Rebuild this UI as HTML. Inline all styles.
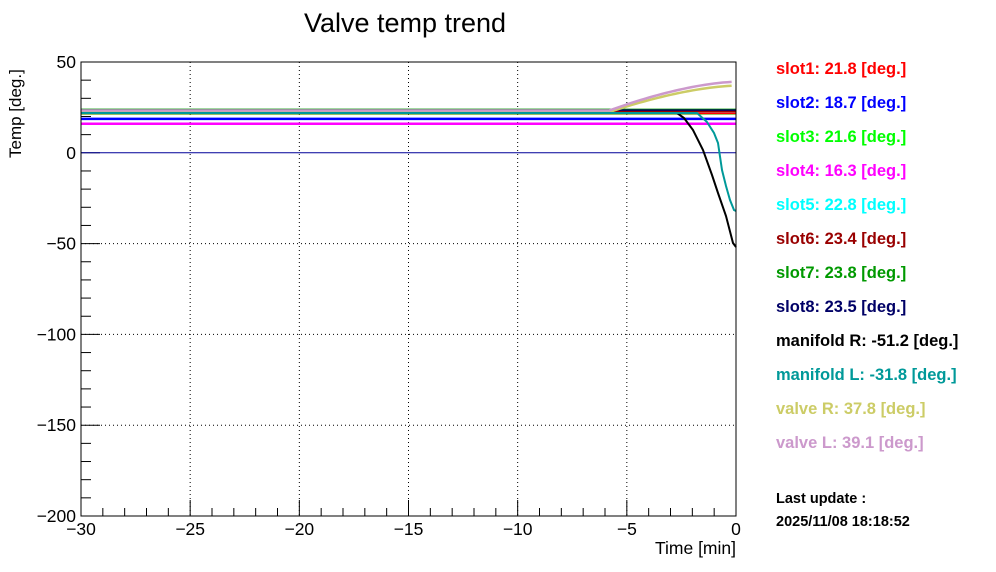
<!DOCTYPE html>
<html><head><meta charset="utf-8"><style>
html,body{margin:0;padding:0;background:#fff;}
svg{display:block;font-family:"Liberation Sans",sans-serif;}
.lg{font-weight:bold;font-size:16.5px;}
</style></head><body>
<svg id="s" width="996" height="572" viewBox="0 0 996 572" xmlns="http://www.w3.org/2000/svg">
<rect width="996" height="572" fill="#fff"/>
<text x="405" y="32" font-size="27" text-anchor="middle">Valve temp trend</text>
<g id="grid" stroke="#000" stroke-width="1" stroke-dasharray="1,3"></g>
<g id="ticks" stroke="#000" stroke-width="1"></g>
<g id="data" fill="none" stroke-width="2"></g>
<rect x="81" y="62" width="655" height="454" fill="none" stroke="#000" stroke-width="1"/>
<g id="lab" font-size="17.5"></g>
<text x="736" y="554" font-size="17.5" text-anchor="end">Time [min]</text>
<text transform="translate(21,158) rotate(-90)" font-size="17" text-anchor="start">Temp [deg.]</text>
<g class="lg">
<text x="776" y="74" fill="#ff0000">slot1: 21.8 [deg.]</text>
<text x="776" y="108" fill="#0000ff">slot2: 18.7 [deg.]</text>
<text x="776" y="142" fill="#00ff00">slot3: 21.6 [deg.]</text>
<text x="776" y="176" fill="#ff00ff">slot4: 16.3 [deg.]</text>
<text x="776" y="210" fill="#00ffff">slot5: 22.8 [deg.]</text>
<text x="776" y="244" fill="#990000">slot6: 23.4 [deg.]</text>
<text x="776" y="278" fill="#009900">slot7: 23.8 [deg.]</text>
<text x="776" y="312" fill="#000066">slot8: 23.5 [deg.]</text>
<text x="776" y="346" fill="#000000">manifold R: -51.2 [deg.]</text>
<text x="776" y="380" fill="#009999">manifold L: -31.8 [deg.]</text>
<text x="776" y="414" fill="#cccc66">valve R: 37.8 [deg.]</text>
<text x="776" y="448" fill="#cc99cc">valve L: 39.1 [deg.]</text>
</g>
<text x="776" y="503" font-size="14.5" font-weight="bold">Last update :</text>
<text x="776" y="526" font-size="14.5" font-weight="bold">2025/11/08 18:18:52</text>
</svg>
<script>
var NS="http://www.w3.org/2000/svg";
function X(t){return 81+(t+30)*655/30;}
function Y(v){return 152.8-v*1.816;}
function el(p,n,a,txt){var e=document.createElementNS(NS,n);for(var k in a)e.setAttribute(k,a[k]);if(txt!==undefined)e.textContent=txt;document.getElementById(p).appendChild(e);return e;}
for(var t=-25;t<0;t+=5){el("grid","line",{x1:X(t),x2:X(t),y1:62,y2:516});}
for(var v=-50;v>-200;v-=50){el("grid","line",{x1:81,x2:736,y1:Y(v),y2:Y(v)});}
for(var t=-30;t<=0;t++){var L=(t%5==0)?16:8;el("ticks","line",{x1:X(t),x2:X(t),y1:516,y2:516-L});}
for(var v=50;v>=-200;v-=10){var L=(v%50==0)?19:10;el("ticks","line",{x1:81,x2:81+L,y1:Y(v),y2:Y(v)});}
for(var t=-30;t<=0;t+=5){el("lab","text",{x:X(t),y:535,"text-anchor":"middle"},(t<0?"\u2212"+(-t):"0"));}
for(var v=50;v>=-200;v-=50){el("lab","text",{x:76,y:Y(v)+6,"text-anchor":"end"},(v<0?"\u2212"+(-v):""+v));}
function flat(c,v,w){el("data","line",{x1:81,x2:736,y1:Y(v),y2:Y(v),stroke:c,"stroke-width":w||2});}
el("data","line",{x1:81,x2:736,y1:Y(0),y2:Y(0),stroke:"#000099","stroke-width":1});
flat("#ff00ff",16.0,2.5);
flat("#0000ff",18.7,2.5);
flat("#00ff00",21.6,2);
flat("#00ffff",22.8,2);
flat("#ff0000",21.8,2);
flat("#009900",23.8,2);
flat("#990000",23.0,2);
flat("#000066",23.5,1.5);
function vp(c,end,off){var d="M81,"+(Y(23.3)+off)+" L604,"+(Y(23.3)+off);for(var t=-5.8;t<=0.001;t+=0.2){var f=(t+5.8)/5.8;var v=23.3+(end-23.3)*(1-Math.pow(1-f,1.6));d+=" L"+X(t)+","+(Y(v)+off);}el("data","path",{d:d,stroke:c,"stroke-width":2.5});}
vp("#cccc66",37.8,1.5);vp("#cc99cc",39.1,0);
el("data","path",{d:"M81,113 L677,113 L684,118 L693,130 L703,150 L712,175 L718,193 L726,216 L733,243 L736,247",stroke:"#000","stroke-width":2});
el("data","path",{d:"M81,113 L697,113 L707,122 L714,133 L718,143 L722,170 L726,186 L730,200 L734,210 L736,211",stroke:"#009999","stroke-width":2});
</script>
</body></html>
